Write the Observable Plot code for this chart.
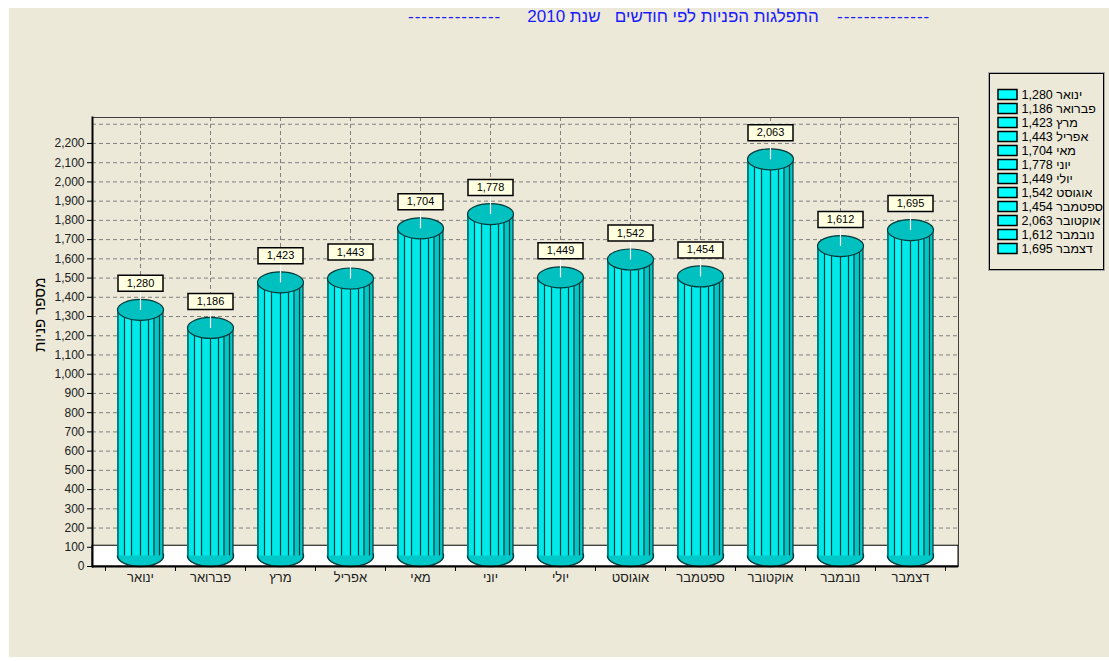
<!DOCTYPE html>
<html>
<head>
<meta charset="utf-8">
<script src="https://cdn.jsdelivr.net/npm/d3@7"></script>
<script src="https://cdn.jsdelivr.net/npm/@observablehq/plot@0.6"></script>
<style>
  body { margin: 0; background: #fff; }
  #wrap { position: relative; width: 1109px; height: 661px; overflow: hidden; background: #fff;
          font-family: "Liberation Sans", "DejaVu Sans", sans-serif; }
  #bg { position: absolute; left: 9px; top: 8px; width: 1100px; height: 649px; background: #ece9d8; }
  #chart { position: absolute; left: 0; top: 0; }
  #legend { position: absolute; left: 989px; top: 73px; width: 113px; height: 195px;
            border: 1px solid #000; outline: 1px solid #a8a8a8; background: #ece9d8; }
  .ttl { position: absolute; top: 7px; font-size: 17px; color: #1a1aff; white-space: pre; line-height: 20px; }
</style>
</head>
<body>
<div id="wrap">
  <div id="bg"></div>
  <div class="ttl" style="left:408px;width:96px;overflow:hidden;letter-spacing:1px">--------------</div>
  <div class="ttl" id="ttlmain" dir="rtl" style="left:515px;width:316px;text-align:center"></div>
  <div class="ttl" style="left:837px;width:104px;overflow:hidden;letter-spacing:1px">--------------</div>
  <div id="chart"></div>
  <div id="legend"></div>
</div>
<script>
// ---- data ----
const months = ["ינואר","פברואר","מרץ","אפריל","מאי","יוני","יולי","אוגוסט","ספטמבר","אוקטובר","נובמבר","דצמבר"];
const values = [1280, 1186, 1423, 1443, 1704, 1778, 1449, 1542, 1454, 2063, 1612, 1695];
const yTicks = [0,100,200,300,400,500,600,700,800,900,1000,1100,1200,1300,1400,1500,1600,1700,1800,1900,2000,2100,2200];
const yGrid = [100,200,300,400,500,600,700,800,900,1000,1100,1200,1300,1400,1500,1600,1700,1800,1900,2000,2100,2200,2300];
const titleText = "התפלגות הפניות לפי חודשים   שנת 2010";
const yLabel = "מספר פניות";

const data = months.map((m, i) => ({month: m, value: values[i]}));
const fmt = d3.format(",");
document.getElementById("ttlmain").textContent = titleText;

// ---- layout ----
const W = 1109, H = 661;
const mL = 92, mR = 151, mT = 117, mB = 95;
const padIn = 0.343, padOut = 0.357;
const band = d3.scaleBand(months, [mL, W - mR]).paddingInner(padIn).paddingOuter(padOut);
const bw = band.bandwidth(), step = band.step();
const rx = bw / 2, ry = 10.5;
const floorTop = 108;

// custom symbols
const K = 0.5523;
function ellipse(a, b) {
  return {draw(c) {
    c.moveTo(-a, 0);
    c.bezierCurveTo(-a, -b * K, -a * K, -b, 0, -b);
    c.bezierCurveTo(a * K, -b, a, -b * K, a, 0);
    c.bezierCurveTo(a, b * K, a * K, b, 0, b);
    c.bezierCurveTo(-a * K, b, -a, b * K, -a, 0);
    c.closePath();
  }};
}
function box(w, h) {
  return {draw(c) { c.rect(-w / 2, -h / 2, w, h); }};
}
function vline(y0, y1) {
  return {draw(c) { c.moveTo(0, y0); c.lineTo(0, y1); }};
}

const stripeOffsets = [-rx + 0.5, -16, -9, 0, 8, 13.5, 19, rx - 0.5];
const labelDy = -37;
const stripeColor = "#043a3a";

const marks = [
  Plot.gridY(yGrid, {stroke: "#808080", strokeOpacity: 1, strokeDasharray: "4,3"}),
  Plot.gridX({stroke: "#808080", strokeOpacity: 1, strokeDasharray: "4,3"}),
  Plot.rect([floorTop], {y1: 0, y2: d => d, fill: "#ffffff", stroke: "#000", strokeWidth: 1}),
  Plot.dot(data, {x: "month", y: d => 0, dy: -ry, r: 1, symbol: ellipse(rx, ry), fill: "#00c8c8", stroke: stripeColor}),
  Plot.barY(data, {x: "month", y: "value", dy: -ry, fill: "#00e8e8"}),
  Plot.barY(data, {x: "month", y: "value", dy: -ry, insetLeft: rx + 13.5, fill: "#00c8c8"}),
  Plot.barY(data, {x: "month", y: "value", dy: -ry, insetLeft: rx - 16, insetRight: rx + 9, fill: "#10f4f4"}),
  ...stripeOffsets.map(o => Plot.ruleX(data, {x: "month", y1: d => 0, y2: "value", dx: o, dy: -ry, stroke: stripeColor, strokeWidth: 1.2})),
  Plot.dot(data, {x: "month", y: "value", dy: -ry, r: 1, symbol: ellipse(rx, ry), fill: "#00c0c0", stroke: stripeColor, strokeWidth: 1.2}),
  Plot.dot(data, {x: "month", y: "value", dy: -ry, r: 1, symbol: vline(0, labelDy + ry + 7.5), stroke: "#ffffff", strokeWidth: 1.2}),
  Plot.dot(data, {x: "month", y: "value", dy: labelDy, r: 1, symbol: box(45, 16), fill: "#ffffe1", stroke: "#000"}),
  Plot.text(data, {x: "month", y: "value", dy: labelDy, text: d => fmt(d.value), fontSize: 11, fill: "#000"}),
  Plot.frame({stroke: "#404040"}),
  Plot.axisY(yTicks, {tickSize: 5, tickPadding: 3, tickFormat: fmt, fontSize: 12, fill: "#202020", stroke: "#000", label: null}),
  Plot.ruleY([0], {stroke: "#000", strokeWidth: 2}),
  Plot.frame({anchor: "left", stroke: "#000", strokeWidth: 2}),
  Plot.axisX({tickSize: 5, text: null, dx: -step / 2, label: null, stroke: "#000"}),
  Plot.axisX([months[months.length - 1]], {tickSize: 5, text: null, dx: step / 2, label: null, stroke: "#000"}),
  Plot.axisX({tickSize: 0, tickPadding: 6, fontSize: 13, fill: "#202020", label: null}),
  Plot.text([yLabel], {frameAnchor: "left", dx: -52, dy: 10, rotate: -90, fontSize: 15, fill: "#000"})
];

const chart = Plot.plot({
  width: W, height: H,
  marginLeft: mL, marginRight: mR, marginTop: mT, marginBottom: mB,
  style: {background: "transparent", fontFamily: "'Liberation Sans', 'DejaVu Sans', sans-serif", overflow: "visible"},
  x: {type: "band", domain: months, paddingInner: padIn, paddingOuter: padOut, axis: null},
  y: {domain: [0, 2335], axis: null},
  marks
});
document.getElementById("chart").append(chart);

const legend = Plot.plot({
  width: 113, height: 195, margin: 0,
  style: {background: "transparent", fontFamily: "'Liberation Sans', 'DejaVu Sans', sans-serif"},
  y: {type: "point", domain: months, range: [9, 185], axis: null},
  marks: [
    Plot.dot(data, {y: "month", frameAnchor: "left", dx: 17, r: 1, symbol: box(19, 10), fill: "#00ffff", stroke: "#000"}),
    Plot.text(data, {y: "month", frameAnchor: "left", dx: 31, text: d => `${fmt(d.value)} ${d.month}`, textAnchor: "start", fontSize: 12.5, fill: "#000"})
  ]
});
document.getElementById("legend").append(legend);
</script>
</body>
</html>
